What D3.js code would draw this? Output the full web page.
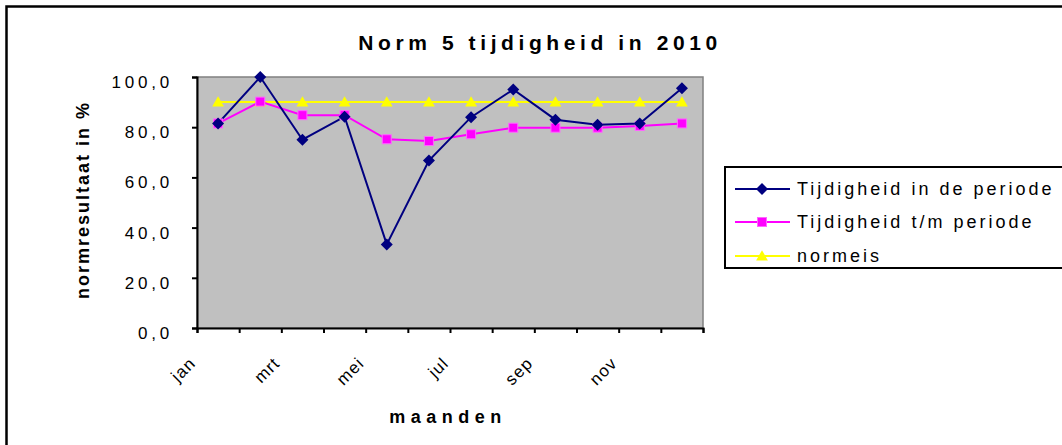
<!DOCTYPE html>
<html>
<head>
<meta charset="utf-8">
<script src="https://cdn.jsdelivr.net/npm/d3@7"></script>
<style>
  html, body { margin: 0; padding: 0; background: #fff; }
  svg { display: block; font-family: "Liberation Sans", Arial, sans-serif; }
</style>
</head>
<body>
<svg id="chart" width="1062" height="445"></svg>
<script>
const months = ["jan","feb","mrt","apr","mei","jun","jul","aug","sep","okt","nov","dec"];
const tijdigheidPeriode = [81.5, 100.0, 75.0, 84.2, 33.3, 66.7, 84.0, 95.0, 83.0, 81.0, 81.5, 95.5];
const tijdigheidTM = [81.5, 90.2, 84.8, 84.8, 75.2, 74.5, 77.2, 79.8, 79.8, 79.8, 80.5, 81.5];
const normeis = [90, 90, 90, 90, 90, 90, 90, 90, 90, 90, 90, 90];
const yTicks = [0, 20, 40, 60, 80, 100];
const seriesNames = ["Tijdigheid in de periode", "Tijdigheid t/m periode", "normeis"];
const titleText = "Norm 5 tijdigheid in 2010";
const xTitle = "maanden";
const yTitle = "normresultaat in %";

const svg = d3.select("#chart");
const W = 1062, H = 445;
const plot = { left: 197, right: 703, top: 77, bottom: 328 };
const FONT = "'Liberation Sans', Arial, sans-serif";

// outer border
svg.append("rect").attr("x", 6.5).attr("y", 6.5).attr("width", W + 10).attr("height", H + 10)
  .attr("fill", "#fff").attr("stroke", "#000").attr("stroke-width", 2.5);

const x = d3.scaleLinear().domain([0, months.length]).range([plot.left, plot.right]);
const y = d3.scaleLinear().domain([0, 100]).range([plot.bottom, plot.top]);

// plot area
svg.append("rect").attr("x", plot.left).attr("y", plot.top)
  .attr("width", plot.right - plot.left).attr("height", plot.bottom - plot.top)
  .attr("fill", "#c0c0c0").attr("stroke", "#808080").attr("stroke-width", 1.5);

// y axis
const yAxis = svg.append("g").attr("transform", `translate(${plot.left},0)`)
  .call(d3.axisLeft(y).tickValues(yTicks).tickSize(5).tickPadding(19)
    .tickFormat(d => d3.format(".1f")(d).replace(".", ",")));
yAxis.select(".domain").attr("stroke", "#000").attr("stroke-width", 2);
yAxis.selectAll(".tick line").attr("stroke", "#000").attr("stroke-width", 2);
yAxis.selectAll(".tick text").attr("font-size", 17).attr("fill", "#000")
  .attr("letter-spacing", 3.8).attr("dy", "0.62em")
  .attr("font-family", FONT);

// x axis
const xAxis = svg.append("g").attr("transform", `translate(0,${plot.bottom})`)
  .call(d3.axisBottom(x).tickValues(d3.range(months.length + 1)).tickSize(5)
    .tickFormat(i => (i < months.length && i % 2 === 0) ? months[i] : ""));
xAxis.select(".domain").attr("stroke", "#000").attr("stroke-width", 2);
xAxis.selectAll(".tick line").attr("stroke", "#000").attr("stroke-width", 2);
xAxis.selectAll(".tick text").attr("font-size", 17).attr("fill", "#000")
  .attr("letter-spacing", 1.2)
  .attr("font-family", FONT)
  .attr("text-anchor", "end").attr("dy", "0.35em")
  .attr("transform", "translate(-5,32) rotate(-45)")
  .attr("y", 0);

// lines
const cx = (d, i) => x(i + 0.5);
const lineGen = d3.line().x(cx).y(d => y(d));
svg.append("path").datum(normeis).attr("d", lineGen).attr("fill", "none").attr("stroke", "#ffff00").attr("stroke-width", 2);
svg.append("path").datum(tijdigheidTM).attr("d", lineGen).attr("fill", "none").attr("stroke", "#ff00ff").attr("stroke-width", 2);
svg.append("path").datum(tijdigheidPeriode).attr("d", lineGen).attr("fill", "none").attr("stroke", "#000080").attr("stroke-width", 2);

// markers
const tri = d3.symbol().type(d3.symbolTriangle).size(60);
const diamond = "M0,-6L6,0L0,6L-6,0Z";
svg.append("g").selectAll("path").data(normeis).join("path")
  .attr("d", tri).attr("transform", (d, i) => `translate(${cx(d, i)},${y(d) + 1})`)
  .attr("fill", "#ffff00");
svg.append("g").selectAll("rect").data(tijdigheidTM).join("rect")
  .attr("x", (d, i) => cx(d, i) - 4.5).attr("y", d => y(d) - 4.5)
  .attr("width", 9).attr("height", 9)
  .attr("fill", "#ff00ff").attr("stroke", "#ff66ff").attr("stroke-width", 1);
svg.append("g").selectAll("path").data(tijdigheidPeriode).join("path")
  .attr("d", diamond).attr("transform", (d, i) => `translate(${cx(d, i)},${y(d)})`)
  .attr("fill", "#000080");

// title
svg.append("text").attr("x", 540).attr("y", 50).attr("text-anchor", "middle")
  .attr("font-size", 21).attr("font-weight", "bold").attr("letter-spacing", 4.6)
  .text(titleText);

// axis titles
svg.append("text").attr("x", 448).attr("y", 423).attr("text-anchor", "middle")
  .attr("font-size", 18).attr("font-weight", "bold").attr("letter-spacing", 5.5)
  .text(xTitle);
svg.append("text").attr("transform", "translate(89,200) rotate(-90)").attr("text-anchor", "middle")
  .attr("font-size", 18).attr("font-weight", "bold").attr("letter-spacing", 2)
  .text(yTitle);

// legend
const lg = svg.append("g");
lg.append("rect").attr("x", 725).attr("y", 167).attr("width", 400).attr("height", 101)
  .attr("fill", "#fff").attr("stroke", "#000").attr("stroke-width", 2);
const colors = ["#000080", "#ff00ff", "#ffff00"];
const rowsY = [189, 222, 256];
seriesNames.forEach((name, k) => {
  const yy = rowsY[k];
  lg.append("line").attr("x1", 735).attr("x2", 790).attr("y1", yy).attr("y2", yy)
    .attr("stroke", colors[k]).attr("stroke-width", 2);
  if (k === 0) lg.append("path").attr("d", diamond).attr("transform", `translate(762,${yy})`).attr("fill", colors[k]);
  if (k === 1) lg.append("rect").attr("x", 757.5).attr("y", yy - 4.5).attr("width", 9).attr("height", 9)
    .attr("fill", "#ff00ff").attr("stroke", "#ff66ff");
  if (k === 2) lg.append("path").attr("d", tri).attr("transform", `translate(762,${yy + 1})`).attr("fill", colors[k]);
  lg.append("text").attr("x", 797).attr("y", yy).attr("dy", "0.35em")
    .attr("font-size", 18).attr("letter-spacing", 3).text(name);
});
</script>
</body>
</html>
